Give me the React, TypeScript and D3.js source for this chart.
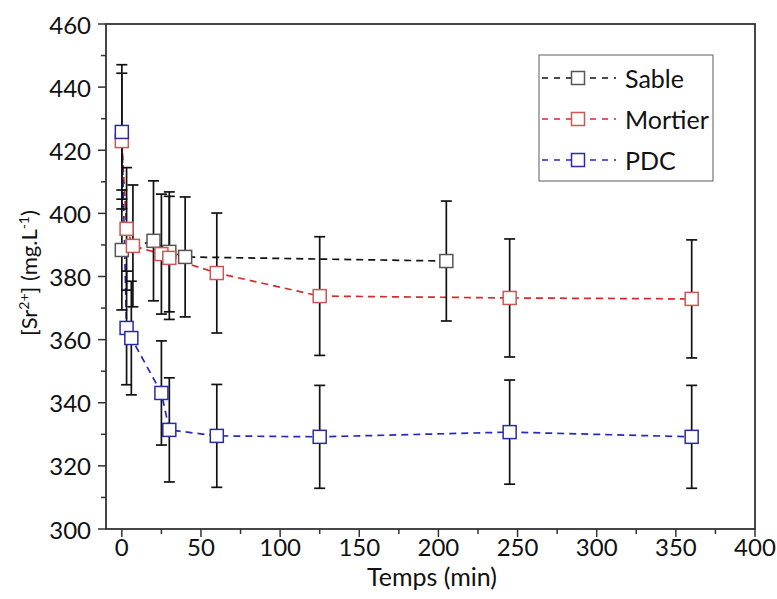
import React from "react";
import * as d3 from "d3";

const xTicks = [0, 50, 100, 150, 200, 250, 300, 350, 400];
const yTicks = [300, 320, 340, 360, 380, 400, 420, 440, 460];

const sableTime = [0, 20, 30, 40, 205];
const sableValue = [388.4, 391.3, 387.8, 386.2, 384.9];
const sableError = [19, 19, 19, 19, 19];

const mortierTime = [0, 3, 7, 25, 30, 60, 125, 245, 360];
const mortierValue = [422.9, 395.1, 389.7, 387.1, 385.9, 381.1, 373.8, 373.2, 372.9];
const mortierError = [21.5, 19.4, 19.3, 19, 19.5, 19, 18.8, 18.7, 18.7];

const pdcTime = [0, 3, 6, 25, 30, 60, 125, 245, 360];
const pdcValue = [425.8, 363.7, 360.5, 343.1, 331.4, 329.5, 329.2, 330.7, 329.2];
const pdcError = [21.3, 18, 18, 16.5, 16.5, 16.3, 16.3, 16.5, 16.3];

const seriesNames = ["Sable", "Mortier", "PDC"];
const lineColors = ["#111111", "#d42a2a", "#2a2ab8"];
const markerColors = ["#555555", "#cc5555", "#2a2aa8"];

const W = 777;
const H = 599;
const left = 106;
const right = 755;
const top = 24;
const bottom = 529;
const font = "Lato, 'Open Sans', sans-serif";

export default function App() {
  const x = d3.scaleLinear().domain([-10, 400]).range([left, right]);
  const y = d3.scaleLinear().domain([300, 460]).range([bottom, top]);

  const series = [
    { t: sableTime, v: sableValue, e: sableError },
    { t: mortierTime, v: mortierValue, e: mortierError },
    { t: pdcTime, v: pdcValue, e: pdcError },
  ];

  const xMinor = d3.range(0, 401, 25).filter((d) => d % 50 !== 0);
  const yMinor = d3.range(310, 460, 20);
  const ms = 13;

  return (
    <svg
      width={W}
      height={H}
      style={{ position: "absolute", left: 0, top: 0, background: "#fff" }}
      fontFamily={font}
    >
      <rect x={0} y={0} width={W} height={H} fill="#fff" />
      {series.map((s, si) => {
        const pts: [number, number][] = s.t.map((t, i) => [x(t), y(s.v[i])]);
        const path = d3.line()(pts) || "";
        return (
          <path
            key={"l" + si}
            d={path}
            fill="none"
            stroke={lineColors[si]}
            strokeWidth={1.7}
            strokeDasharray="7,5"
          />
        );
      })}
      {series.map((s, si) =>
        s.t.map((t, i) => {
          const cx = x(t);
          const y1 = y(s.v[i] + s.e[i]);
          const y2 = y(s.v[i] - s.e[i]);
          return (
            <g key={"e" + si + "-" + i} stroke="#111" strokeWidth={1.7}>
              <line x1={cx} x2={cx} y1={y1} y2={y2} />
              <line x1={cx - 5.5} x2={cx + 5.5} y1={y1} y2={y1} />
              <line x1={cx - 5.5} x2={cx + 5.5} y1={y2} y2={y2} />
            </g>
          );
        })
      )}
      {series.map((s, si) =>
        s.t.map((t, i) => (
          <rect
            key={"m" + si + "-" + i}
            x={x(t) - ms / 2}
            y={y(s.v[i]) - ms / 2}
            width={ms}
            height={ms}
            fill="#fff"
            stroke={markerColors[si]}
            strokeWidth={1.5}
          />
        ))
      )}
      <rect
        x={left}
        y={top}
        width={right - left}
        height={bottom - top}
        fill="none"
        stroke="#333"
        strokeWidth={1.8}
      />
      {yTicks.map((t) => (
        <g key={"yt" + t}>
          <line x1={left - 8} x2={left} y1={y(t)} y2={y(t)} stroke="#333" strokeWidth={1.5} />
          <text
            x={left - 15}
            y={y(t)}
            textAnchor="end"
            dominantBaseline="central"
            fontSize={24}
            fill="#111"
          >
            {t}
          </text>
        </g>
      ))}
      {yMinor.map((t) => (
        <line key={"ym" + t} x1={left - 5} x2={left} y1={y(t)} y2={y(t)} stroke="#333" strokeWidth={1.5} />
      ))}
      {xTicks.map((t) => (
        <g key={"xt" + t}>
          <line x1={x(t)} x2={x(t)} y1={bottom} y2={bottom + 8} stroke="#333" strokeWidth={1.5} />
          <text x={x(t)} y={bottom + 27} textAnchor="middle" fontSize={24} fill="#111">
            {t}
          </text>
        </g>
      ))}
      {xMinor.map((t) => (
        <line key={"xm" + t} x1={x(t)} x2={x(t)} y1={bottom} y2={bottom + 5} stroke="#333" strokeWidth={1.5} />
      ))}
      <text x={432} y={586} textAnchor="middle" fontSize={25} fill="#111">
        Temps (min)
      </text>
      <text transform="translate(37,273) rotate(-90)" textAnchor="middle" fontSize={22} fill="#111">
        [Sr
        <tspan baselineShift="super" fontSize={14}>2+</tspan>
        ] (mg.L
        <tspan baselineShift="super" fontSize={14}>-1</tspan>
        )
      </text>
      <rect x={539} y={55} width={174} height={126} fill="#fff" stroke="#777" strokeWidth={1.2} />
      {seriesNames.map((n, i) => {
        const ly = 78 + i * 41;
        return (
          <g key={"lg" + i}>
            <line
              x1={542}
              x2={616}
              y1={ly}
              y2={ly}
              stroke={lineColors[i]}
              strokeWidth={1.6}
              strokeDasharray="6,6"
            />
            <rect x={578 - 6.5} y={ly - 6.5} width={13} height={13} fill="#fff" stroke={markerColors[i]} strokeWidth={1.5} />
            <text x={625} y={ly} dominantBaseline="central" fontSize={25} fill="#111">
              {n}
            </text>
          </g>
        );
      })}
    </svg>
  );
}
